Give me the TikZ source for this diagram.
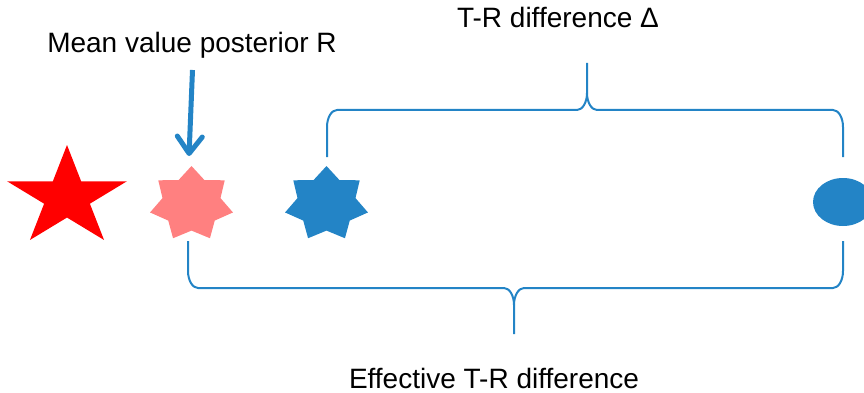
\documentclass[tikz,border=0pt]{standalone}
\usepackage{fontspec}
\setmainfont{Liberation Sans}
\usetikzlibrary{arrows.meta}
\definecolor{accentblue}{RGB}{35,132,198}
\definecolor{lightred}{RGB}{255,128,128}
\begin{document}
\begin{tikzpicture}[x=1pt,y=-1pt,
  caption/.style={font=\fontsize{28}{32}\selectfont, text=black, inner sep=0pt, anchor=base},
  brace/.style={draw=accentblue, line width=2pt, line join=round},
  pointer/.style={draw=accentblue, line width=5pt,
    -{Straight Barb[length=17pt, width=25pt, round]}},
]
\useasboundingbox (0,0) rectangle (864,393);
\clip (0,0) rectangle (864,393);

% marker centres
\coordinate (target)  at (67,197.5);
\coordinate (refpost) at (191.5,204);
\coordinate (testpos) at (326.5,204);
\coordinate (meanpt)  at (843,202);

% five-pointed star (T)
\fill[red] plot[samples at={0,...,9}, variable=\k]
  ({67+63*(0.691+0.309*cos(180*\k))*cos(90+36*\k)},
   {197.5-52.5*(0.691+0.309*cos(180*\k))*sin(90+36*\k)}) -- cycle;

% seven-pointed stars
\fill[lightred] plot[samples at={0,...,13}, variable=\k]
  ({191.5+42.5*(0.85+0.15*cos(180*\k))*cos(90+180/7*\k)},
   {204-38*(0.85+0.15*cos(180*\k))*sin(90+180/7*\k)}) -- cycle;
\fill[accentblue] plot[samples at={0,...,13}, variable=\k]
  ({326.5+42.5*(0.85+0.15*cos(180*\k))*cos(90+180/7*\k)},
   {204-38*(0.85+0.15*cos(180*\k))*sin(90+180/7*\k)}) -- cycle;

% ellipse at the right edge
\fill[accentblue] (meanpt) ellipse [x radius=30pt, y radius=24pt];

% labels
\node[caption] (meanlbl) at (192,53) {Mean value posterior R};
\node[caption] (difflbl) at (558,28) {T-R difference Δ};
\node[caption] (efflbl)  at (494,388) {Effective T-R difference};

% brace end points
\coordinate (tbl) at (327,157);
\coordinate (tbr) at (843,157);
\coordinate (tbt) at (587,63);
\coordinate (bbl) at (188,241);
\coordinate (bbr) at (843,241);
\coordinate (bbt) at (514,334);
\coordinate (arrs) at (192.5,70);
\coordinate (arre) at (189,156);

% arrow to the reference mean
\draw[pointer] (arrs) -- (arre);

% upper brace
\draw[brace] (tbl) -- (327,127) .. controls (327,117.6) and (331.5,110) .. (337,110)
  -- (577,110) .. controls (582.5,110) and (587,102.4) .. (587,93) -- (tbt);
\draw[brace] (587,93) .. controls (587,102.4) and (591.5,110) .. (597,110)
  -- (833,110) .. controls (838.5,110) and (843,117.6) .. (843,127) -- (tbr);

% lower brace
\draw[brace] (bbl) -- (188,271) .. controls (188,280.4) and (192.5,288) .. (198,288)
  -- (504,288) .. controls (509.5,288) and (514,295.6) .. (514,305) -- (bbt);
\draw[brace] (514,305) .. controls (514,295.6) and (518.5,288) .. (524,288)
  -- (833,288) .. controls (838.5,288) and (843,280.4) .. (843,271) -- (bbr);
\end{tikzpicture}
\end{document}
